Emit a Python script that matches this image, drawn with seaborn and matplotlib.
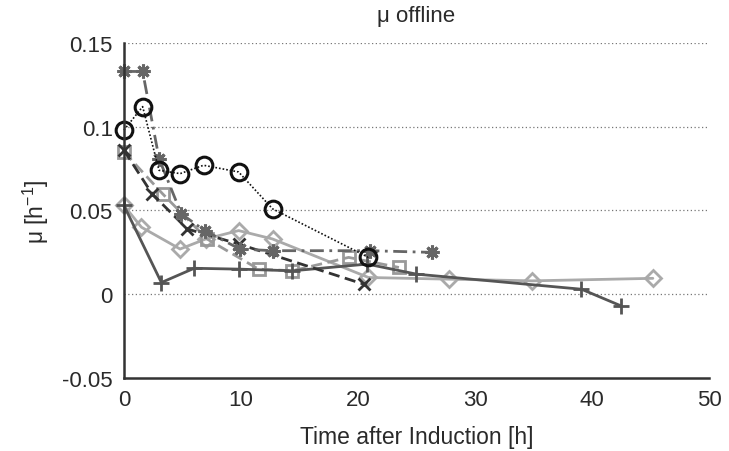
import matplotlib
matplotlib.use("Agg")
import matplotlib.pyplot as plt
import seaborn as sns
import pandas as pd

sns.set_style("white")
plt.rcParams['font.family'] = ['Liberation Sans', 'DejaVu Sans']
plt.rcParams['mathtext.fontset'] = 'custom'
plt.rcParams['mathtext.rm'] = 'Liberation Sans'

# Specific growth rate (offline) per cultivation, vs time after induction
t_circle = [0, 1.6, 3.0, 4.8, 6.8, 9.8, 12.7, 20.9]
mu_circle = [0.098, 0.112, 0.074, 0.072, 0.077, 0.073, 0.051, 0.022]

t_star = [0, 1.6, 3.0, 4.9, 6.9, 9.9, 12.7, 21.0, 26.3]
mu_star = [0.133, 0.133, 0.081, 0.048, 0.038, 0.027, 0.026, 0.026, 0.025]

t_plus = [0, 3.2, 6.0, 9.8, 14.4, 20.8, 25.0, 39.1, 42.5]
mu_plus = [0.053, 0.007, 0.0155, 0.015, 0.014, 0.018, 0.012, 0.003, -0.007]

t_cross = [0, 2.4, 5.4, 9.8, 20.5]
mu_cross = [0.086, 0.060, 0.039, 0.030, 0.006]

t_square = [0, 3.3, 7.1, 11.5, 14.4, 19.2, 23.5]
mu_square = [0.085, 0.060, 0.033, 0.015, 0.014, 0.022, 0.016]

t_diamond = [0, 1.5, 4.8, 7.0, 9.8, 12.7, 20.9, 27.8, 34.9, 45.2]
mu_diamond = [0.053, 0.040, 0.027, 0.033, 0.038, 0.033, 0.010, 0.009, 0.008, 0.0095]

y_ticks = [-0.05, 0, 0.05, 0.1, 0.15]
y_tick_labels = ['-0.05', '0', '0.05', '0.1', '0.15']
x_ticks = [0, 10, 20, 30, 40, 50]

fig = plt.figure(figsize=(7.29, 4.52), dpi=100)
ax = fig.add_axes([0.170, 0.1615, 0.8026, 0.7412])

# dotted reference lines
for yv in [0, 0.05, 0.1, 0.15]:
    ax.axhline(yv, color='#777777', linestyle=(0, (1, 2)), linewidth=0.9, zorder=0)

series = [
    (t_diamond, mu_diamond, dict(color='#aaaaaa', linestyle='-', linewidth=2.0,
                                 marker='D', markersize=8, markerfacecolor='none',
                                 markeredgewidth=2.0, markeredgecolor='#aaaaaa')),
    (t_square, mu_square, dict(color='#999999', linestyle=(0, (4, 2)), linewidth=2.0,
                               marker='s', markersize=9, markerfacecolor='none',
                               markeredgewidth=2.0, markeredgecolor='#999999')),
    (t_plus, mu_plus, dict(color='#555555', linestyle='-', linewidth=2.0,
                           marker='+', markersize=12, markeredgewidth=2.0,
                           markeredgecolor='#555555')),
    (t_cross, mu_cross, dict(color='#333333', linestyle=(0, (4, 2)), linewidth=2.0,
                             marker='x', markersize=8, markeredgewidth=2.0,
                             markeredgecolor='#333333')),
    (t_star, mu_star, dict(color='#666666', linestyle=(0, (5, 2, 1, 2)), linewidth=2.0,
                           marker=(8, 2, 0), markersize=10, markeredgewidth=2.2,
                           markeredgecolor='#666666')),
    (t_circle, mu_circle, dict(color='#111111', linestyle=(0, (1, 1.2)), linewidth=1.2,
                               marker='o', markersize=12, markerfacecolor='none',
                               markeredgewidth=2.2, markeredgecolor='#111111')),
]

for tx, my, kw in series:
    df = pd.DataFrame({'t': tx, 'mu': my})
    sns.lineplot(data=df, x='t', y='mu', ax=ax, sort=False, estimator=None,
                 legend=False, clip_on=False, **kw)

ax.set_xlim(0, 50)
ax.set_ylim(-0.05, 0.15)
ax.set_xticks(x_ticks)
ax.set_yticks(y_ticks)
ax.set_yticklabels(y_tick_labels)
ax.tick_params(direction='in', length=5, width=1.2, colors='#222222',
               labelsize=16, labelcolor='#2a2a2a', pad=8)
ax.tick_params(axis='x', pad=8)

for side in ['top', 'right']:
    ax.spines[side].set_visible(False)
for side in ['left', 'bottom']:
    ax.spines[side].set_color('#333333')
    ax.spines[side].set_linewidth(1.8)

ax.set_xlabel('Time after Induction [h]', fontsize=16.5, color='#2a2a2a', labelpad=11)
ax.set_ylabel(r'μ [h$^{\mathregular{-1}}$]', fontsize=16.5, color='#2a2a2a', labelpad=8)
ax.set_title('μ offline', fontsize=16, color='#2a2a2a', pad=16)

fig.savefig('out.png', dpi=100)
